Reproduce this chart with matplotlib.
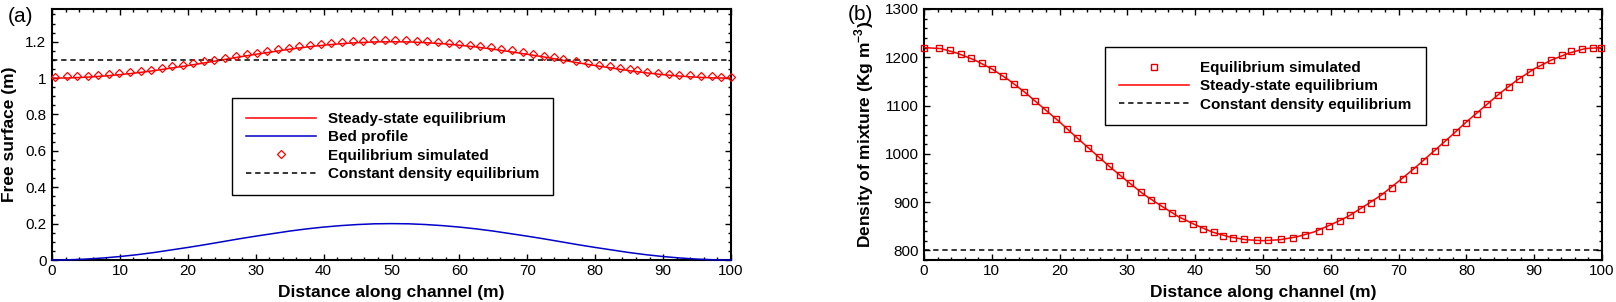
import matplotlib
matplotlib.use("Agg")
import matplotlib.pyplot as plt
from matplotlib.ticker import MultipleLocator, FuncFormatter

plt.rcParams['font.family'] = ['Liberation Sans', 'DejaVu Sans']
plt.rcParams['mathtext.fontset'] = 'custom'
plt.rcParams['mathtext.rm'] = 'Liberation Sans'
plt.rcParams['mathtext.bf'] = 'Liberation Sans:bold'

# ---------------- data: panel (a) ----------------
line_x = [0, 2.5, 5, 7.5, 10, 12.5, 15, 17.5, 20, 22.5, 25, 27.5, 30, 32.5, 35, 37.5, 40,
          42.5, 45, 47.5, 50, 52.5, 55, 57.5, 60, 62.5, 65, 67.5, 70, 72.5, 75, 77.5, 80,
          82.5, 85, 87.5, 90, 92.5, 95, 97.5, 100]
steady_surface = [1.000, 1.001, 1.005, 1.011, 1.019, 1.029, 1.041, 1.055, 1.069, 1.084,
                  1.100, 1.116, 1.131, 1.145, 1.159, 1.171, 1.181, 1.189, 1.195, 1.199,
                  1.200, 1.199, 1.195, 1.189, 1.181, 1.171, 1.159, 1.145, 1.131, 1.116,
                  1.100, 1.084, 1.069, 1.055, 1.041, 1.029, 1.019, 1.011, 1.005, 1.001, 1.000]
bed_profile = [0.000, 0.001, 0.005, 0.011, 0.019, 0.029, 0.041, 0.055, 0.069, 0.084,
               0.100, 0.116, 0.131, 0.145, 0.159, 0.171, 0.181, 0.189, 0.195, 0.199,
               0.200, 0.199, 0.195, 0.189, 0.181, 0.171, 0.159, 0.145, 0.131, 0.116,
               0.100, 0.084, 0.069, 0.055, 0.041, 0.029, 0.019, 0.011, 0.005, 0.001, 0.000]
sim_x_a = [0.5, 2.2, 3.7, 5.3, 6.8, 8.4, 9.9, 11.5, 13.1, 14.6,
           16.2, 17.7, 19.3, 20.8, 22.4, 23.9, 25.5, 27.1, 28.7, 30.2,
           31.7, 33.3, 34.9, 36.4, 38.0, 39.6, 41.1, 42.7, 44.3, 45.8,
           47.4, 49.0, 50.5, 52.1, 53.7, 55.2, 56.8, 58.4, 59.9, 61.5,
           63.1, 64.6, 66.2, 67.8, 69.3, 70.9, 72.5, 73.9, 75.3, 77.1,
           78.9, 80.6, 82.2, 83.7, 85.1, 86.2, 87.7, 89.3, 90.9, 92.4,
           93.9, 95.6, 97.2, 98.6, 100.0]
sim_surface = [1.008, 1.009, 1.011, 1.013, 1.017, 1.022, 1.027, 1.033, 1.040, 1.047,
               1.055, 1.064, 1.073, 1.082, 1.092, 1.101, 1.111, 1.121, 1.131, 1.140,
               1.149, 1.158, 1.166, 1.174, 1.181, 1.187, 1.193, 1.198, 1.202, 1.205,
               1.207, 1.208, 1.208, 1.207, 1.205, 1.203, 1.199, 1.194, 1.189, 1.183,
               1.176, 1.169, 1.161, 1.152, 1.143, 1.133, 1.124, 1.115, 1.106, 1.095,
               1.084, 1.074, 1.064, 1.056, 1.049, 1.043, 1.036, 1.030, 1.024, 1.019,
               1.015, 1.012, 1.010, 1.008, 1.008]
const_x = [0, 100]
const_surface = [1.1, 1.1]

# ---------------- data: panel (b) ----------------
steady_density = [1220, 1218, 1208, 1194, 1176, 1153, 1126, 1096, 1066, 1034,
                  1003, 972, 943, 915, 892, 870, 853, 838, 828, 822,
                  820, 822, 828, 838, 853, 870, 892, 915, 943, 972,
                  1003, 1034, 1066, 1096, 1126, 1153, 1176, 1194, 1208, 1218, 1220]
sim_x_b = [0.0, 2.2, 3.8, 5.4, 7.0, 8.6, 10.1, 11.7, 13.3, 14.8,
           16.4, 17.9, 19.5, 21.1, 22.6, 24.2, 25.8, 27.3, 28.9, 30.4,
           32.0, 33.5, 35.1, 36.6, 38.1, 39.7, 41.2, 42.7, 44.1, 45.6,
           47.2, 49.1, 50.8, 52.6, 54.4, 56.2, 58.2, 59.7, 61.3, 62.8,
           64.4, 66.0, 67.5, 69.1, 70.6, 72.2, 73.7, 75.3, 76.8, 78.4,
           80.0, 81.5, 83.1, 84.7, 86.3, 87.8, 89.4, 90.9, 92.5, 94.1,
           95.5, 97.1, 98.6, 99.8]
sim_density = [1219, 1219, 1215, 1206, 1198, 1188, 1175, 1161, 1145, 1128,
               1110, 1091, 1072, 1052, 1032, 1013, 993, 975, 957, 939,
               921, 905, 891, 877, 866, 855, 845, 837, 830, 826,
               823, 821, 821, 824, 826, 832, 841, 851, 861, 874,
               886, 899, 913, 930, 947, 966, 985, 1005, 1025, 1045,
               1063, 1083, 1103, 1122, 1139, 1155, 1170, 1183, 1195, 1204,
               1212, 1217, 1219, 1220]
const_density = [800, 800]

x_ticks = [0, 10, 20, 30, 40, 50, 60, 70, 80, 90, 100]

RED = '#ff0000'
BLUE = '#0000c8'
W, H = 1616, 302
fig = plt.figure(figsize=(W / 100, H / 100), dpi=100)

def px_axes(l, t, r, b):
    return fig.add_axes([l / W, 1 - b / H, (r - l) / W, (b - t) / H])

axa = px_axes(52, 9, 731, 260)
axb = px_axes(924, 9, 1602, 260)

TICK_FS = 11
LAB_FS = 12.5
LEG_FS = 11

def style(ax):
    for s in ax.spines.values():
        s.set_linewidth(1.5)
    ax.tick_params(which='both', direction='in', top=True, right=True,
                   labelsize=TICK_FS, width=1.0)
    ax.tick_params(which='major', length=4)
    ax.tick_params(which='minor', length=2)
    ax.tick_params(axis='y', pad=4)
    ax.tick_params(axis='x', pad=3)
    ax.set_xlim(0, 100)
    ax.set_xticks(x_ticks)
    ax.xaxis.set_minor_locator(MultipleLocator(2))
    ax.set_xlabel('Distance along channel (m)', fontsize=LAB_FS, fontweight='bold', labelpad=5)

def legend(ax, handles, x0, top):
    leg = ax.legend(handles=handles, loc='upper left', bbox_to_anchor=(x0, top),
                    borderaxespad=0, fancybox=False, framealpha=1, edgecolor='black',
                    prop={'size': LEG_FS, 'weight': 'bold'}, handlelength=4.6,
                    handletextpad=0.75, labelspacing=0.28, borderpad=0.9, numpoints=1)
    leg.get_frame().set_linewidth(1.0)
    return leg

# ---- panel (a) ----
style(axa)
ls1, = axa.plot(line_x, steady_surface, color=RED, lw=1.1, zorder=3, label='Steady-state equilibrium')
ls2, = axa.plot(line_x, bed_profile, color=BLUE, lw=1.1, zorder=3, clip_on=False,
                label='Bed profile')
ls3, = axa.plot(sim_x_a, sim_surface, linestyle='none', marker='D', ms=4.4, mfc='none',
                mec=RED, mew=0.9, clip_on=False, zorder=4, label='Equilibrium simulated')
ls4, = axa.plot(const_x, const_surface, color='black', lw=1.1, dashes=(3.5, 2.5), zorder=3,
                label='Constant density equilibrium')
axa.set_ylim(0, 1.38)
axa.yaxis.set_major_locator(MultipleLocator(0.2))
axa.yaxis.set_minor_locator(MultipleLocator(0.05))
axa.yaxis.set_major_formatter(FuncFormatter(lambda v, p: ('%g' % round(v, 2))))
axa.set_ylabel('Free surface (m)', fontsize=LAB_FS, fontweight='bold', labelpad=6)
legend(axa, [ls1, ls2, ls3, ls4], (232.3 - 52) / 679, (260 - 98.3) / 251)

# ---- panel (b) ----
style(axb)
lb1, = axb.plot(sim_x_b, sim_density, linestyle='none', marker='s', ms=4.3, mfc='none',
                mec='#e00000', mew=1.0, clip_on=False, zorder=4, label='Equilibrium simulated')
lb2, = axb.plot(line_x, steady_density, color=RED, lw=1.1, zorder=3, label='Steady-state equilibrium')
lb3, = axb.plot(const_x, const_density, color='black', lw=1.1, dashes=(3.5, 2.5), zorder=3,
                label='Constant density equilibrium')
axb.set_ylim(780, 1300)
axb.yaxis.set_major_locator(MultipleLocator(100))
axb.yaxis.set_minor_locator(MultipleLocator(20))
axb.set_ylabel(r'Density of mixture (Kg m$^{\mathbf{-3}}$)', fontsize=LAB_FS,
               fontweight='bold', labelpad=6)
legend(axb, [lb1, lb2, lb3], (1105 - 924) / 678, (260 - 47.3) / 251)

fig.text(8 / W, 1 - 17 / H, '(a)', fontsize=15, ha='left', va='center')
fig.text(848 / W, 1 - 14 / H, '(b)', fontsize=15, ha='left', va='center')

fig.savefig('out.png', dpi=100)
